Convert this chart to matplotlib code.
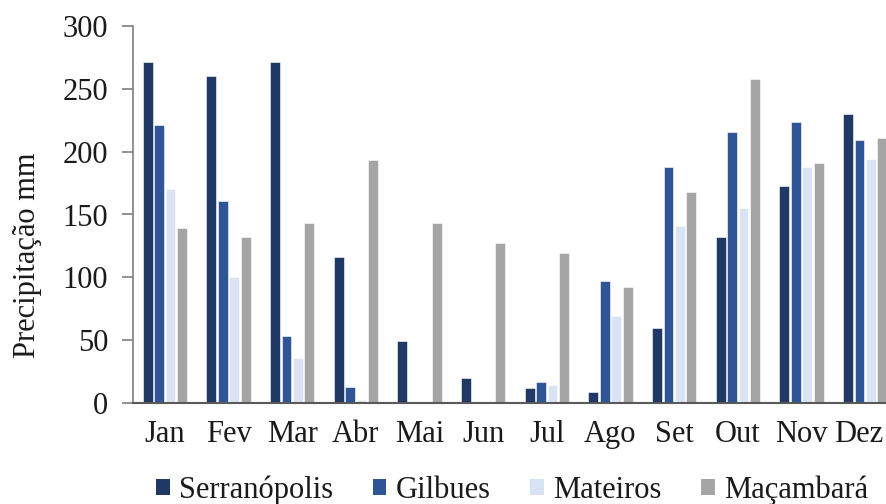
import matplotlib.pyplot as plt
import numpy as np
from matplotlib.patches import Patch
from matplotlib.transforms import ScaledTranslation

plt.rcParams.update({
    'font.family': ['Liberation Serif', 'DejaVu Serif'],
    'font.size': 22,
})

meses = ["Jan", "Fev", "Mar", "Abr", "Mai", "Jun",
         "Jul", "Ago", "Set", "Out", "Nov", "Dez"]

serranopolis = [271, 260, 271, 116, 49, 20, 12, 9, 60, 132, 173, 230]
gilbues      = [221, 161, 53, 13, 0, 0, 17, 97, 188, 216, 224, 209]
mateiros     = [170, 100, 36, 2, 0, 0.5, 14, 69, 141, 155, 188, 194]
macambara    = [139, 132, 143, 193, 143, 127, 119, 92, 168, 258, 191, 211]

series = [
    ("Serranópolis", serranopolis, "#1f3864"),
    ("Gilbues", gilbues, "#2f5597"),
    ("Mateiros", mateiros, "#dae3f3"),
    ("Maçambará", macambara, "#a5a5a5"),
]

W, H = 886, 504
fig = plt.figure(figsize=(W / 100, H / 100), dpi=100)
ax = fig.add_axes([133 / W, 1 - 403 / H, 764 / W, 377 / H])

x = np.arange(len(meses))
pitch = 0.18
width = 0.155
for i, (name, vals, color) in enumerate(series):
    ax.bar(x + (i - 1.5) * pitch, vals, width=width, color=color,
           edgecolor="white", linewidth=0.4, label=name)

ax.set_xlim(-0.5, 11.5)
ax.set_ylim(0, 300)
ax.set_yticks(range(0, 301, 50))
ax.set_xticks(x)
ax.set_xticklabels(meses)

for s in ["top", "right"]:
    ax.spines[s].set_visible(False)
ax.spines["left"].set_color("#7f7f7f")
ax.spines["left"].set_linewidth(1.2)
ax.spines["bottom"].set_color("#595959")
ax.spines["bottom"].set_linewidth(1.5)

ax.tick_params(axis="y", length=8, width=1.2, color="#7f7f7f", pad=10,
               labelcolor="#1a1a1a")
ax.tick_params(axis="x", length=0, pad=12, labelcolor="#1a1a1a")

# last label sits at the right edge of the picture; nudge it inside
last = ax.get_xticklabels()[-1]
last.set_transform(last.get_transform() + ScaledTranslation(-6 / 100, 0, fig.dpi_scale_trans))

fig.text(28 / W, 1 - 255.5 / H, "Precipitação mm", rotation=90,
         ha="center", va="center", color="#1a1a1a")

handles = [Patch(facecolor=c, edgecolor="none", label=n) for n, _, c in series]
fig.legend(handles=handles, loc="center", bbox_to_anchor=(512 / W, 1 - 490 / H),
           ncol=4, frameon=False, handlelength=0.45, handleheight=0.45,
           handletextpad=0.3, columnspacing=1.3, borderpad=0,
           labelcolor="#1a1a1a")

fig.savefig("out.png", dpi=100)
